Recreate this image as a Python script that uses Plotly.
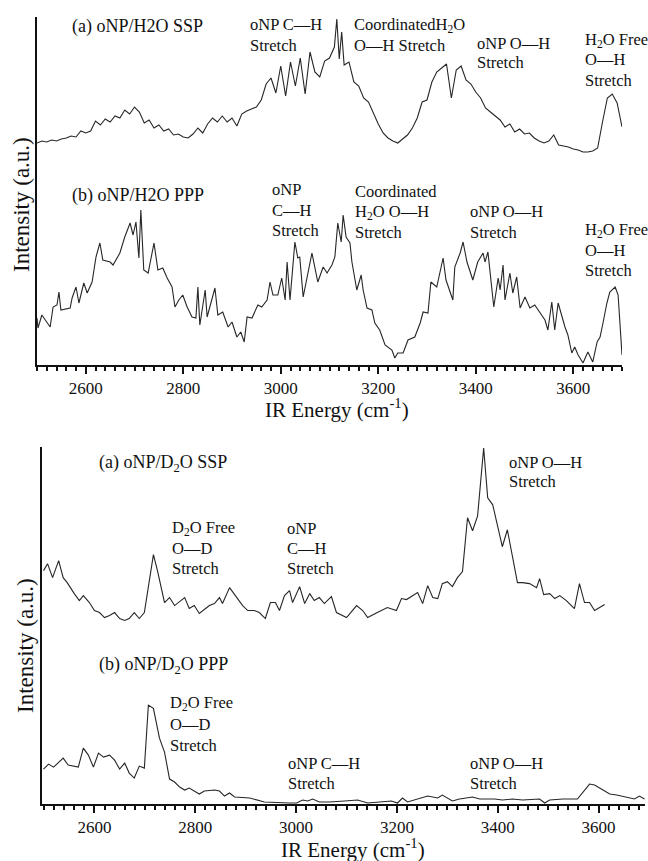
import plotly.graph_objects as go

# ---------------- data ----------------
# Top panel (H2O), x = IR energy (cm-1), y = intensity (a.u.)
h2o_ssp_energy = [2500, 2510, 2520, 2530, 2540, 2550, 2560, 2570, 2580, 2590, 2600, 2610, 2620, 2630, 2640,
                  2650, 2660, 2670, 2680, 2690, 2700, 2710, 2720, 2730, 2740, 2750, 2760, 2770, 2780, 2790,
                  2800, 2810, 2820, 2830, 2840, 2850, 2860, 2870, 2880, 2890, 2900, 2910, 2920, 2930, 2940,
                  2950, 2960, 2970, 2980, 2990, 3000, 3010, 3020, 3030, 3040, 3050, 3060, 3070, 3080, 3090,
                  3100, 3110, 3115, 3120, 3125, 3130, 3140, 3150, 3160, 3170, 3180, 3190, 3200, 3210, 3220,
                  3230, 3240, 3250, 3260, 3270, 3280, 3290, 3300, 3310, 3320, 3330, 3340, 3350, 3360, 3370,
                  3380, 3390, 3400, 3410, 3420, 3430, 3440, 3450, 3460, 3470, 3480, 3490, 3500, 3510, 3520,
                  3530, 3540, 3550, 3560, 3570, 3580, 3590, 3600, 3610, 3620, 3630, 3640, 3650, 3660, 3670,
                  3680, 3690, 3700]
h2o_ssp_intensity = [222, 224, 223, 225, 224, 226, 227, 229, 228, 234, 232, 234, 244, 240, 246,
                     243, 249, 247, 255, 251, 258, 253, 242, 245, 237, 240, 234, 236, 230, 231,
                     228, 227, 231, 237, 232, 241, 247, 243, 249, 243, 247, 239, 251, 254, 256,
                     258, 265, 281, 287, 272, 299, 269, 303, 279, 307, 271, 313, 293, 288, 304,
                     307, 318, 346, 306, 333, 300, 303, 283, 279, 267, 263, 251, 241, 232, 227,
                     224, 222, 226, 230, 237, 247, 263, 265, 283, 293, 297, 301, 267, 295, 299,
                     285, 281, 273, 267, 257, 253, 249, 245, 238, 241, 233, 236, 231, 232, 227,
                     224, 222, 224, 230, 220, 219, 218, 216, 215, 213, 213, 214, 217, 243, 267,
                     271, 262, 238]

h2o_ppp_energy = [2500, 2502, 2510, 2521, 2527, 2533, 2541, 2545, 2549, 2568, 2572, 2580, 2586, 2596, 2603,
                  2613, 2621, 2629, 2635, 2650, 2656, 2670, 2680, 2691, 2697, 2703, 2709, 2713, 2719, 2728,
                  2740, 2748, 2758, 2767, 2777, 2783, 2791, 2799, 2808, 2818, 2826, 2830, 2834, 2845, 2849,
                  2865, 2871, 2881, 2892, 2900, 2910, 2918, 2925, 2931, 2941, 2953, 2961, 2972, 2978, 2984,
                  2994, 3002, 3009, 3013, 3019, 3029, 3035, 3039, 3046, 3064, 3076, 3087, 3095, 3105, 3111,
                  3117, 3124, 3128, 3134, 3142, 3146, 3156, 3165, 3169, 3177, 3187, 3193, 3203, 3214, 3228,
                  3234, 3240, 3251, 3261, 3275, 3286, 3292, 3302, 3308, 3320, 3333, 3339, 3353, 3357, 3368,
                  3374, 3382, 3394, 3404, 3415, 3419, 3425, 3437, 3446, 3450, 3456, 3460, 3470, 3476, 3484,
                  3491, 3501, 3511, 3521, 3532, 3542, 3548, 3556, 3562, 3569, 3583, 3589, 3597, 3603, 3610,
                  3620, 3630, 3640, 3649, 3655, 3661, 3669, 3675, 3686, 3692, 3700]
h2o_ppp_intensity = [47, 37, 50, 43, 38, 58, 60, 73, 55, 57, 67, 78, 62, 82, 72,
                     83, 108, 122, 105, 103, 100, 112, 128, 142, 130, 143, 107, 155, 95, 92,
                     122, 95, 97, 87, 78, 58, 65, 70, 58, 48, 47, 78, 40, 75, 48,
                     77, 50, 53, 38, 43, 28, 33, 23, 48, 47, 60, 58, 65, 83, 70,
                     70, 87, 65, 103, 65, 123, 107, 108, 68, 112, 83, 98, 92, 100, 108,
                     142, 123, 150, 128, 122, 103, 75, 90, 75, 57, 55, 42, 35, 20, 15,
                     7, 12, 12, 25, 28, 42, 53, 52, 83, 78, 107, 85, 65, 98, 112,
                     123, 103, 85, 103, 112, 103, 113, 58, 87, 75, 100, 65, 92, 72, 88,
                     57, 68, 57, 60, 52, 45, 35, 63, 35, 62, 38, 30, 12, 18, 10,
                     2, 13, 3, 23, 28, 42, 62, 73, 78, 70, 10]

# Bottom panel (D2O)
d2o_ssp_energy = [2499, 2507, 2517, 2529, 2538, 2546, 2560, 2570, 2578, 2590, 2600, 2610, 2620, 2630, 2640,
                  2650, 2660, 2669, 2679, 2689, 2699, 2709, 2717, 2725, 2739, 2749, 2759, 2779, 2788, 2798,
                  2808, 2828, 2838, 2848, 2854, 2868, 2882, 2894, 2904, 2917, 2927, 2939, 2949, 2959, 2967,
                  2977, 2987, 2993, 3007, 3017, 3027, 3036, 3046, 3056, 3070, 3080, 3100, 3120, 3132, 3142,
                  3161, 3181, 3199, 3209, 3219, 3241, 3251, 3261, 3271, 3281, 3290, 3300, 3310, 3320, 3330,
                  3340, 3350, 3360, 3372, 3380, 3390, 3409, 3419, 3439, 3449, 3463, 3477, 3483, 3491, 3503,
                  3513, 3523, 3536, 3552, 3562, 3572, 3582, 3592, 3612]
d2o_ssp_intensity = [234, 241, 227, 244, 227, 222, 211, 204, 209, 202, 194, 192, 187, 189, 192,
                     186, 184, 186, 192, 186, 192, 227, 250, 234, 202, 207, 199, 207, 196, 199,
                     191, 199, 201, 207, 201, 217, 207, 199, 194, 194, 192, 186, 202, 202, 194,
                     209, 214, 202, 218, 201, 211, 204, 207, 201, 208, 192, 187, 199, 194, 187,
                     192, 197, 194, 206, 205, 212, 201, 219, 207, 206, 221, 223, 218, 227, 233,
                     287, 274, 289, 357, 307, 300, 258, 275, 222, 222, 221, 217, 226, 210, 211,
                     206, 209, 204, 196, 221, 202, 202, 194, 200]

d2o_ppp_energy = [2499, 2509, 2519, 2538, 2548, 2568, 2578, 2588, 2598, 2608, 2618, 2630, 2640, 2650, 2660,
                  2669, 2679, 2689, 2699, 2707, 2717, 2729, 2739, 2749, 2759, 2769, 2779, 2788, 2808, 2818,
                  2838, 2848, 2858, 2868, 2878, 2908, 2937, 2967, 2987, 3001, 3013, 3023, 3033, 3046, 3066,
                  3096, 3122, 3142, 3165, 3189, 3201, 3211, 3221, 3241, 3261, 3281, 3290, 3310, 3324, 3350,
                  3364, 3394, 3409, 3429, 3449, 3483, 3493, 3503, 3529, 3558, 3572, 3582, 3592, 3606, 3622,
                  3636, 3652, 3671, 3681, 3691]
d2o_ppp_intensity = [35, 40, 37, 46, 39, 37, 56, 49, 37, 51, 47, 49, 44, 35, 41,
                     31, 26, 38, 36, 99, 96, 66, 52, 25, 22, 17, 14, 16, 10, 13,
                     14, 13, 8, 11, 7, 6, 2, 1, 1, 1, 4, 3, 5, 2, 2,
                     3, 4, 1, 2, 3, 1, 6, 2, 5, 8, 6, 9, 3, 5, 7,
                     5, 5, 4, 5, 4, 5, 1, 4, 5, 5, 14, 20, 19, 15, 10,
                     9, 7, 5, 8, 5]

# axis ranges
top_xrange = [2500, 3700]
bottom_xrange = [2496, 3692]
top_yrange = [0, 348]
bottom_yrange = [0, 358]

W, H = 648, 861
FONT = "Liberation Serif"
LINE_COLOR = "#262626"
TXT = "#111111"


def px(x):
    return x / W


def py(y):
    return 1 - y / H


fig = go.Figure()

fig.add_trace(go.Scatter(x=h2o_ssp_energy, y=h2o_ssp_intensity, mode="lines",
                         line=dict(color=LINE_COLOR, width=1.1), xaxis="x", yaxis="y"))
fig.add_trace(go.Scatter(x=h2o_ppp_energy, y=h2o_ppp_intensity, mode="lines",
                         line=dict(color=LINE_COLOR, width=1.1), xaxis="x", yaxis="y"))
fig.add_trace(go.Scatter(x=d2o_ssp_energy, y=d2o_ssp_intensity, mode="lines",
                         line=dict(color=LINE_COLOR, width=1.1), xaxis="x2", yaxis="y2"))
fig.add_trace(go.Scatter(x=d2o_ppp_energy, y=d2o_ppp_intensity, mode="lines",
                         line=dict(color=LINE_COLOR, width=1.1), xaxis="x2", yaxis="y2"))


def xaxis_style(domain, rng, anchor):
    return dict(domain=domain, range=rng, anchor=anchor, showline=True, linewidth=2,
                linecolor=TXT, showgrid=False, zeroline=False, ticks="outside",
                tick0=2600, dtick=200, ticklen=7, tickwidth=1.6, tickcolor=TXT,
                tickfont=dict(family=FONT, size=17, color=TXT),
                minor=dict(ticks="outside", dtick=20, tick0=2500, ticklen=4, tickwidth=1.6,
                           tickcolor=TXT, showgrid=False),
                fixedrange=True)


def yaxis_style(domain, rng, anchor):
    return dict(domain=domain, range=rng, anchor=anchor, showline=True, linewidth=2,
                linecolor=TXT, showgrid=False, zeroline=False, ticks="",
                showticklabels=False, fixedrange=True)


fig.update_layout(
    width=W, height=H,
    margin=dict(l=0, r=0, t=0, b=0),
    paper_bgcolor="white", plot_bgcolor="white",
    showlegend=False,
    xaxis=xaxis_style([px(37), px(622)], top_xrange, "y"),
    yaxis=yaxis_style([py(365), py(17)], top_yrange, "x"),
    xaxis2=xaxis_style([px(42), px(645)], bottom_xrange, "y2"),
    yaxis2=yaxis_style([py(804), py(447)], bottom_yrange, "x2"),
    font=dict(family=FONT, color=TXT, size=17),
)

annotations = []


def label(x, y, lines, size=16.5, spacing=20):
    for i, t in enumerate(lines):
        annotations.append(dict(x=px(x), y=py(y + i * spacing), xref="paper", yref="paper",
                                text=t, showarrow=False, xanchor="left", yanchor="middle",
                                font=dict(family=FONT, size=size, color=TXT)))


# Top panel labels
label(70, 27, ["(a) oNP/H2O SSP"], size=18)
label(248, 25, ["oNP C\u2014H", "Stretch"])
label(352, 25, ["CoordinatedH<sub>2</sub>O", "O\u2014H Stretch"])
label(475, 43, ["oNP O\u2014H", "Stretch"])
label(583, 40, ["H<sub>2</sub>O Free", "O\u2014H", "Stretch"])

label(70, 195, ["(b) oNP/H2O PPP"], size=18)
label(270, 190, ["oNP", "C\u2014H", "Stretch"])
label(353, 192, ["Coordinated", "H<sub>2</sub>O O\u2014H", "Stretch"])
label(468, 212, ["oNP O\u2014H", "Stretch"])
label(583, 230, ["H<sub>2</sub>O Free", "O\u2014H", "Stretch"])

# Bottom panel labels
label(97, 463, ["(a) oNP/D<sub>2</sub>O SSP"], size=18)
label(170, 528, ["D<sub>2</sub>O Free", "O\u2014D", "Stretch"])
label(285, 528, ["oNP", "C\u2014H", "Stretch"])
label(507, 462, ["oNP O\u2014H", "Stretch"])

label(97, 665, ["(b) oNP/D<sub>2</sub>O PPP"], size=18)
label(168, 703, ["D<sub>2</sub>O Free", "O\u2014D", "Stretch"], spacing=21)
label(286, 763, ["oNP C\u2014H", "Stretch"])
label(468, 763, ["oNP O\u2014H", "Stretch"])

# axis titles
for (x, y) in [(337, 408), (353, 848)]:
    annotations.append(dict(x=px(x), y=py(y), xref="paper", yref="paper",
                            text="IR Energy (cm<sup>-1</sup>)", showarrow=False,
                            xanchor="center", yanchor="middle",
                            font=dict(family=FONT, size=21, color=TXT)))
for (x, y) in [(21, 205), (25, 646)]:
    annotations.append(dict(x=px(x), y=py(y), xref="paper", yref="paper",
                            text="Intensity (a.u.)", showarrow=False, textangle=-90,
                            xanchor="center", yanchor="middle",
                            font=dict(family=FONT, size=23, color=TXT)))

fig.update_layout(annotations=annotations)

fig.write_html("out.html")
